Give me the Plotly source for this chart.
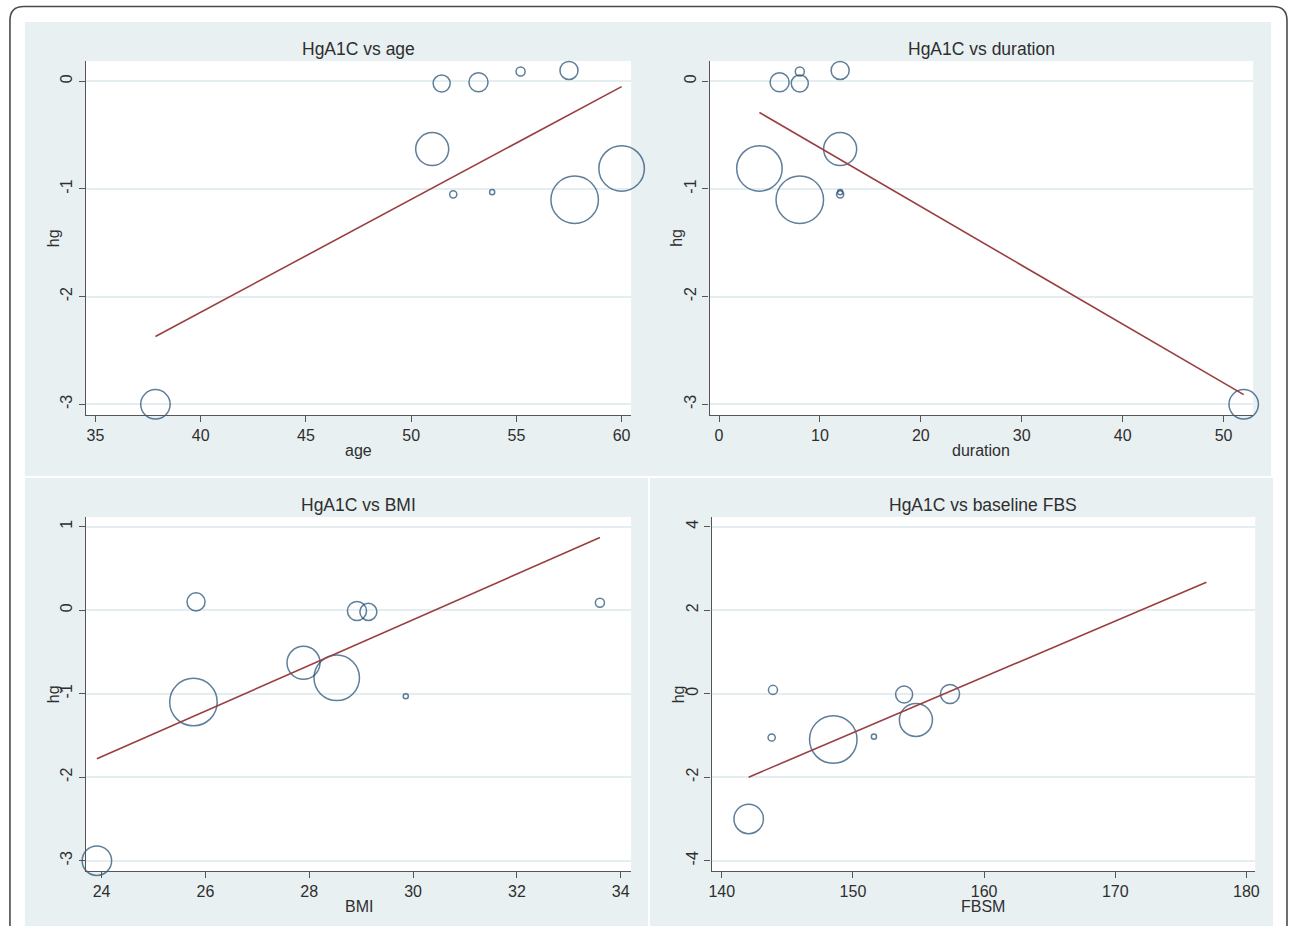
import numpy as np
import plotly.graph_objects as go

W, H = 1290, 926

# Per-study values (one entry per study; None = not reported)
hg = [-3.00, -0.02, -0.01, 0.09, 0.10, -0.63, -1.05, -1.03, -1.10, -0.81]
weight = [11.7, 3.9, 4.9, 1.1, 4.4, 14.7, 0.7, 0.35, 30.4, 27.9]
age = [37.85, 51.45, 53.2, 55.2, 57.5, 51.0, 52.0, 53.85, 57.77, 60.0]
duration = [52, 8, 6, 8, 12, 12, 12, 12, 8, 4]
bmi = [23.91, 29.14, 28.92, 33.6, 25.82, 27.89, None, 29.86, 25.77, 28.53]
fbsm = [142.05, 153.9, 157.4, 143.9, None, 154.8, 143.8, 151.6, 148.5, None]

# Fitted regression lines (end points)
fit_age_x, fit_age_y = [37.85, 60.0], [-2.37, -0.05]
fit_dur_x, fit_dur_y = [4.0, 52.0], [-0.29, -2.91]
fit_bmi_x, fit_bmi_y = [23.91, 33.6], [-1.78, 0.87]
fit_fbs_x, fit_fbs_y = [142.05, 176.95], [-2.0, 2.67]

# Tick values
age_ticks = [35, 40, 45, 50, 55, 60]
dur_ticks = [0, 10, 20, 30, 40, 50]
bmi_ticks = [24, 26, 28, 30, 32, 34]
fbs_ticks = [140, 150, 160, 170, 180]
hg_ticks_top = [-3, -2, -1, 0]
hg_ticks_bmi = [-3, -2, -1, 0, 1]
hg_ticks_fbs = [-4, -2, 0, 2, 4]

FONT = "Liberation Sans, Arial, Helvetica, sans-serif"
PANEL_BG = "#e9f0f2"
GRID = "#e4edf0"
AXIS = "#555555"
TEXT = "#2e2e2e"
NAVY = "#1a476f"
MAROON = "#9a3f41"

panels = [
    dict(title="HgA1C vs age", xlabel="age", x=age, fx=fit_age_x, fy=fit_age_y,
         xt=age_ticks, yt=hg_ticks_top, xr=[34.55, 60.45], yr=[-3.099, 0.188],
         box=(83.5, 61, 632, 415), ylab_x=50.5),
    dict(title="HgA1C vs duration", xlabel="duration", x=duration, fx=fit_dur_x, fy=fit_dur_y,
         xt=dur_ticks, yt=hg_ticks_top, xr=[-0.94, 52.94], yr=[-3.099, 0.188],
         box=(711, 61, 1258, 415), ylab_x=677),
    dict(title="HgA1C vs BMI", xlabel="BMI", x=bmi, fx=fit_bmi_x, fy=fit_bmi_y,
         xt=bmi_ticks, yt=hg_ticks_bmi, xr=[23.70, 34.20], yr=[-3.123, 1.116],
         box=(83.5, 517, 632, 871), ylab_x=50.5),
    dict(title="HgA1C vs baseline FBS", xlabel="FBSM", x=fbsm, fx=fit_fbs_x, fy=fit_fbs_y,
         xt=fbs_ticks, yt=hg_ticks_fbs, xr=[139.22, 180.67], yr=[-4.247, 4.23],
         box=(713, 517, 1260, 871), ylab_x=679.5),
]

# Panel backgrounds (pixel rectangles: x0, y0, x1, y1)
panel_rects = [(22, 22, 648, 476), (648, 22, 1276, 476),
               (22, 478, 649, 926), (651, 478, 1278, 926)]


def px(x):
    return x / W


def py(y):
    return 1 - y / H


def labels(vals):
    # plain hyphen for negative numbers
    return [str(v) for v in vals]


fig = go.Figure()
shapes = []
annotations = []
layout_axes = {}

for r in panel_rects:
    shapes.append(dict(type="rect", xref="paper", yref="paper", layer="below",
                       x0=px(r[0]), x1=px(r[2]), y0=py(r[3]), y1=py(r[1]),
                       fillcolor=PANEL_BG, line=dict(width=0)))

diam_scale = 47.5 / np.sqrt(max(weight))

for i, p in enumerate(panels, start=1):
    sx = "" if i == 1 else str(i)
    xa, ya = "x" + sx, "y" + sx
    x0, y0, x1, y1 = p["box"]

    # white plot region
    shapes.append(dict(type="rect", xref="paper", yref="paper", layer="below",
                       x0=px(x0), x1=px(x1), y0=py(y1), y1=py(y0),
                       fillcolor="white", line=dict(width=0)))

    idx = [k for k, v in enumerate(p["x"]) if v is not None]
    xs = [p["x"][k] for k in idx]
    ys = [hg[k] for k in idx]
    sizes = [diam_scale * np.sqrt(weight[k]) for k in idx]

    fig.add_trace(go.Scatter(
        x=xs, y=ys, mode="markers", xaxis=xa, yaxis=ya, showlegend=False,
        cliponaxis=False,
        marker=dict(symbol="circle-open", size=sizes, color=NAVY,
                    line=dict(width=1.5, color=NAVY)),
    ))
    fig.add_trace(go.Scatter(
        x=p["fx"], y=p["fy"], mode="lines", xaxis=xa, yaxis=ya, showlegend=False,
        line=dict(color=MAROON, width=1.6),
    ))

    common = dict(showline=True, linecolor=AXIS, linewidth=1.3, ticks="outside",
                  ticklen=6, tickwidth=1.2, tickcolor=AXIS, zeroline=False,
                  tickfont=dict(family=FONT, size=16, color=TEXT))
    layout_axes["xaxis" + sx] = dict(
        domain=[px(x0), px(x1)], anchor=ya, range=p["xr"], tickmode="array",
        tickvals=p["xt"], ticktext=labels(p["xt"]), showgrid=False, **common)
    layout_axes["yaxis" + sx] = dict(
        domain=[py(y1), py(y0)], anchor=xa, range=p["yr"], tickmode="array",
        tickvals=p["yt"], ticktext=labels(p["yt"]), showgrid=True,
        gridcolor=GRID, gridwidth=1.6, tickangle=-90, **common)

    cx = (x0 + x1) / 2
    annotations.append(dict(text=p["title"], x=px(cx), y=py(y0 - 11.5),
                            xref="paper", yref="paper", showarrow=False,
                            xanchor="center", yanchor="middle",
                            font=dict(family=FONT, size=17.5, color=TEXT)))
    annotations.append(dict(text=p["xlabel"], x=px(cx), y=py(y1 + 35.5),
                            xref="paper", yref="paper", showarrow=False,
                            xanchor="center", yanchor="middle",
                            font=dict(family=FONT, size=16, color=TEXT)))
    annotations.append(dict(text="hg", x=px(p["ylab_x"]), y=py((y0 + y1) / 2),
                            xref="paper", yref="paper", showarrow=False,
                            textangle=-90, xanchor="center", yanchor="middle",
                            font=dict(family=FONT, size=16, color=TEXT)))

# outer rounded frame
bx0, by0, bx1, by1, rr = 7, 6.5, 1292, 980, 14
path = (f"M {px(bx0)},{py(by1)} L {px(bx0)},{py(by0 + rr)} "
        f"Q {px(bx0)},{py(by0)} {px(bx0 + rr)},{py(by0)} "
        f"L {px(bx1 - rr)},{py(by0)} "
        f"Q {px(bx1)},{py(by0)} {px(bx1)},{py(by0 + rr)} "
        f"L {px(bx1)},{py(by1)}")
shapes.append(dict(type="path", path=path, xref="paper", yref="paper",
                   layer="above", line=dict(color="#4a4a4a", width=1.6)))

fig.update_layout(
    width=W, height=H, margin=dict(l=0, r=0, t=0, b=0),
    paper_bgcolor="white", plot_bgcolor="rgba(0,0,0,0)",
    font=dict(family=FONT, color=TEXT),
    shapes=shapes, annotations=annotations, **layout_axes,
)

fig.write_html("out.html")
